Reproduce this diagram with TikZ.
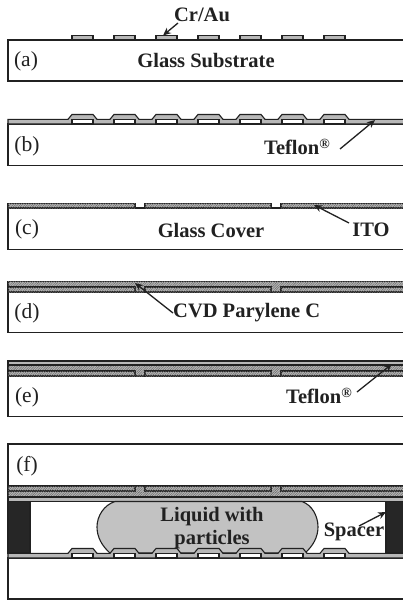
\documentclass[tikz,border=0pt]{standalone}
\usepackage{fontspec}
\setmainfont{Liberation Serif}
\usetikzlibrary{arrows.meta,patterns.meta}
\definecolor{ink}{gray}{0.13}
\definecolor{tefl}{gray}{0.72}
\definecolor{liq}{gray}{0.76}
\definecolor{dark}{gray}{0.15}
\tikzset{
  x=1pt,y=-1pt,
  edge/.style={draw=ink,line width=1.1pt},
  glass/.style={edge,fill=white},
  teflon/.style={edge,fill=tefl},
  hatched/.style={edge,fill=gray!55,postaction={pattern={Lines[angle=45,distance=1.7pt,line width=.55pt]},pattern color=gray!85!black}},
  thinhatch/.style={draw=none,fill=gray!55,postaction={pattern={Lines[angle=45,distance=1.7pt,line width=.55pt]},pattern color=gray!85!black}},
  lab/.style={font=\fontsize{20.5}{23}\selectfont\bfseries,text=ink,inner sep=0pt},
  tag/.style={font=\fontsize{21.5}{24}\selectfont,text=ink,inner sep=0pt},
  pointer/.style={draw=ink,line width=1.3pt,-{Stealth[length=8pt,width=7pt]}},
}
\newcommand{\Tm}{Teflon\raisebox{6pt}{\fontsize{14}{14}\selectfont ®}}
% electrodes sitting on y=#1
\newcommand{\electrodes}[2]{\foreach \ex in {72,114,156,198,240,282,324}
  \draw[edge,fill=#2] (\ex,#1) rectangle (\ex+21,#1-4.5);}
% bumpy Teflon whose lower face is y=#1
\newcommand{\bumpy}[1]{\path[teflon] (8,#1) -- (8,#1-4.7)
  \foreach \ex in {72,114,156,198,240,282,324} { -- (\ex-4,#1-4.7) -- (\ex,#1-9.5) -- (\ex+21,#1-9.5) -- (\ex+25,#1-4.7) }
  -- (410,#1-4.7) -- (410,#1) -- cycle;
  \electrodes{#1}{white}}
% ITO strips between y=#1 and y=#2
\newcommand{\ito}[2]{\path[hatched] (8,#1) rectangle (135,#2);
  \path[hatched] (145,#1) rectangle (271,#2);
  \path[hatched] (281,#1) rectangle (410,#2);}
\newcommand{\gapfill}[2]{\path[thinhatch] (135.6,#1) rectangle (144.4,#2);
  \path[thinhatch] (271.6,#1) rectangle (280.4,#2);}
\begin{document}
\begin{tikzpicture}
\clip (0,0) rectangle (403,600);
\fill[white] (0,0) rectangle (403,600);

% (a)
\path[glass] (8,40) rectangle (410,81);
\electrodes{40}{tefl}
\node[lab] (cr) at (202,15) {Cr/Au};
\node[tag] (ta) at (26,61) {(a)};
\node[lab] (gs) at (206,61) {Glass Substrate};
\coordinate (crp) at (163,35.5);
\coordinate (crs) at (178,23);
\draw[pointer] (crs) -- (crp);

% (b)
\path[glass] (8,124) rectangle (410,165.5);
\bumpy{124}
\node[tag] (tb) at (27,146) {(b)};
\node[lab,anchor=west] (tfb) at (264,147) {\Tm};
\coordinate (bs) at (340,149);
\coordinate (bp) at (375,120);
\draw[pointer] (bs) -- (bp);

% (c)
\path[glass] (8,208) rectangle (410,249.5);
\ito{203.5}{208}
\node[tag] (tc) at (27,229) {(c)};
\node[lab] (gc) at (211,230) {Glass Cover};
\node[lab] (it) at (371,230) {ITO};
\coordinate (cs) at (349,223);
\coordinate (cp) at (314,205);
\draw[pointer] (cs) -- (cp);

% (d)
\path[glass] (8,292) rectangle (410,332.7);
\path[hatched] (8,281.5) rectangle (410,292);
\ito{287}{292}
\gapfill{286}{291.4}
\node[tag] (td) at (27,313) {(d)};
\node[lab,anchor=west] (cv) at (173,313) {CVD Parylene C};
\coordinate (dp) at (135,283);
\draw[pointer] (cv.west) -- (dp);

% (e)
\path[glass] (8,376) rectangle (410,416.7);
\path[hatched] (8,365) rectangle (410,376);
\path[teflon] (8,361) rectangle (410,365);
\ito{371}{376}
\gapfill{370}{375.4}
\node[tag] (te) at (27,397) {(e)};
\node[lab,anchor=west] (tfe) at (286,396) {\Tm};
\coordinate (es) at (357,392);
\coordinate (ep) at (392,364);
\draw[pointer] (es) -- (ep);

% (f)
\path[glass] (8,444) rectangle (410,486);
\path[hatched] (8,486) rectangle (410,497);
\path[teflon] (8,497) rectangle (410,501.5);
\ito{486}{491}
\gapfill{486.6}{492}
\path[edge,fill=dark] (8,501.5) rectangle (30,553);
\path[edge,fill=dark] (386,501.5) rectangle (410,553);
\path[edge,fill=liq] (115,501.5) -- (302,501.5)
  .. controls (312,505) and (318,516) .. (318,527)
  .. controls (318,537) and (313,546) .. (305,553)
  -- (110,553)
  .. controls (102,546) and (97,537) .. (97,527)
  .. controls (97,516) and (104,505) .. (115,501.5) -- cycle;
\path[glass] (8,558) rectangle (410,599);
\bumpy{558}
\node[tag] (tf) at (27,466) {(f)};
\node[lab,align=center] (lq) at (212,528) {\fontsize{20.5}{26.5}\selectfont Liquid with\\particles};
\node[lab] (sp) at (354,532) {Spacer};
\coordinate (fs) at (359,526);
\coordinate (fp) at (386,512);
\draw[pointer] (fs) -- (fp);
\end{tikzpicture}
\end{document}
